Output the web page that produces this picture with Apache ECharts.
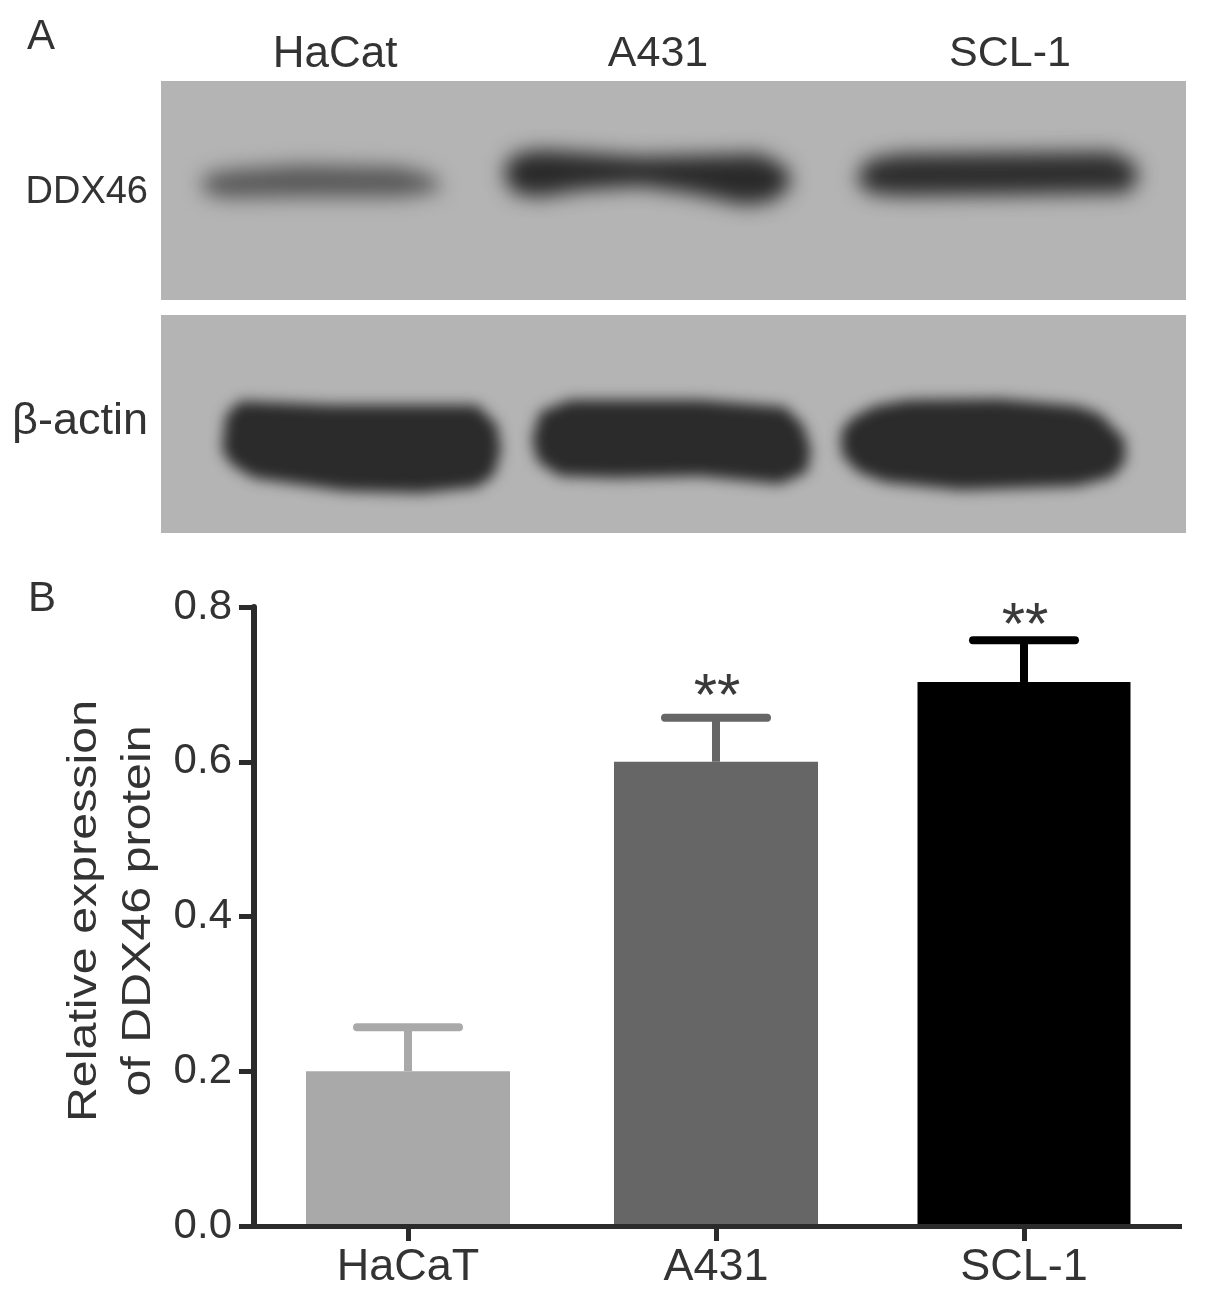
<!DOCTYPE html>
<html>
<head>
<meta charset="utf-8">
<style>
    html, body { margin: 0; padding: 0; background: #fff; }
    #main { width: 1205px; height: 1299px; }
</style>
<script src="https://cdn.jsdelivr.net/npm/echarts@6/dist/echarts.min.js"></script>
</head>
<body>
<div id="main"></div>
<script>
// values
var categories = ['HaCaT', 'A431', 'SCL-1']
var barValues = [0.2, 0.6, 0.703]
var errorTops = [0.257, 0.657, 0.757]
var significance = ['', '**', '**']
var yTicks = { min: 0, max: 0.8, interval: 0.2 }
var blotLanes = ['HaCat', 'A431', 'SCL-1']
var blotRows = ['DDX46', 'β-actin']

var barColors = ['#a9a9a9', '#666666', '#000000']
var starGap = [0, 19, 13]
var fontFamily = '"Liberation Sans", Arial, sans-serif'
var textColor = '#333333'
var axisColor = '#2b2b2b'
var OFF = 3000

// a band is drawn off the page and only its blurred shadow lands on the blot
function band(points, color, blur) {
    return {
        type: 'polygon',
        silent: true,
        shape: { points: points.map(function (p) { return [p[0] - OFF, p[1]] }) },
        style: {
            fill: color,
            shadowColor: color,
            shadowBlur: blur,
            shadowOffsetX: OFF
        }
    }
}

function label(text, x, y, size, align) {
    return {
        type: 'text',
        x: x,
        y: y,
        style: {
            text: text,
            fill: textColor,
            font: size + 'px ' + fontFamily,
            textAlign: align || 'center'
        }
    }
}

var graphics = [
    { type: 'rect', silent: true, shape: { x: 161, y: 81, width: 1025, height: 219 }, style: { fill: '#b4b4b4' } },
    { type: 'rect', silent: true, shape: { x: 161, y: 315, width: 1025, height: 218 }, style: { fill: '#b4b4b4' } },

    band([[203, 176], [230, 170], [300, 165], [400, 167], [435, 177], [441, 190], [400, 197], [300, 197], [225, 198], [203, 192]], '#585858', 20),
    band([[503, 172], [513, 155], [540, 150], [640, 157], [760, 154], [787, 168], [791, 186], [772, 201], [745, 205], [690, 193], [640, 186], [580, 190], [540, 197], [513, 193]], '#2a2a2a', 20),
    band([[856, 178], [868, 160], [900, 154], [1000, 153], [1112, 152], [1134, 163], [1139, 178], [1127, 193], [1000, 195], [900, 196], [868, 193]], '#2e2e2e', 20),

    band([[222, 450], [226, 415], [240, 401], [331, 405], [477, 405], [497, 425], [501, 450], [494, 475], [477, 487], [420, 493], [346, 491], [254, 478], [232, 465]], '#2b2b2b', 14),
    band([[532, 440], [540, 412], [570, 400], [700, 400], [785, 407], [803, 425], [811, 450], [807, 472], [780, 484], [700, 476], [615, 478], [560, 476], [538, 462]], '#2b2b2b', 14),
    band([[841, 432], [842, 455], [858, 472], [885, 482], [961, 490], [1077, 486], [1112, 477], [1125, 462], [1125, 440], [1100, 414], [1077, 406], [1000, 399], [908, 400], [875, 406], [852, 418]], '#2b2b2b', 14),

    label('A', 41, 16, 42),
    label('B', 42, 578, 42),
    label(blotLanes[0], 335, 33, 44),
    label(blotLanes[1], 658, 33, 43),
    label(blotLanes[2], 1010, 33, 43),
    label(blotRows[0], 148, 174, 38, 'right'),
    label(blotRows[1], 148, 399, 45, 'right'),

    // axis title is stretched along its length, like the figure
    {
        type: 'text',
        x: 112,
        y: 911,
        rotation: Math.PI / 2,
        scaleX: 1.18,
        style: {
            text: 'Relative expression\nof DDX46 protein',
            fill: textColor,
            font: '41px ' + fontFamily,
            lineHeight: 54,
            textAlign: 'center',
            textVerticalAlign: 'middle'
        }
    },
    // axis runs slightly past the last band
    { type: 'rect', silent: true, shape: { x: 1177, y: 1224, width: 5, height: 5 }, style: { fill: axisColor } }
]

function renderError(params, api) {
    var i = api.value(0)
    var top = api.coord([i, api.value(1)])
    var base = api.coord([i, api.value(2)])
    var color = barColors[i]
    var children = [
        {
            type: 'line',
            shape: { x1: top[0], y1: base[1], x2: top[0], y2: top[1] },
            style: { stroke: color, lineWidth: 8 }
        },
        {
            type: 'line',
            shape: { x1: top[0] - 51, y1: top[1], x2: top[0] + 51, y2: top[1] },
            style: { stroke: color, lineWidth: 8, lineCap: 'round' }
        }
    ]
    if (significance[i]) {
        children.push({
            type: 'text',
            x: top[0] + 1,
            y: top[1] - starGap[i],
            style: {
                text: significance[i],
                fill: '#3a3a3a',
                font: '60px ' + fontFamily,
                textAlign: 'center',
                textVerticalAlign: 'middle'
            }
        })
    }
    return { type: 'group', children: children }
}

var chart = echarts.init(document.getElementById('main'), null, { renderer: 'canvas' })

function categoryAxis(show) {
    return {
        type: 'category',
        data: categories,
        show: show,
        z: 5,
        axisLine: { lineStyle: { color: axisColor, width: 5 } },
        axisTick: { show: true, alignWithLabel: true, length: 15, lineStyle: { color: axisColor, width: 5 } },
        axisLabel: { color: textColor, fontFamily: fontFamily, fontSize: 45, margin: 19, interval: 0 }
    }
}

chart.setOption({
    backgroundColor: '#ffffff',
    animation: false,
    graphic: graphics,
    grid: { left: 254, top: 607, width: 924, height: 619, containLabel: false },
    xAxis: [categoryAxis(true), categoryAxis(false)],
    yAxis: {
        type: 'value',
        min: yTicks.min,
        max: yTicks.max,
        interval: yTicks.interval,
        z: 5,
        splitLine: { show: false },
        axisLine: { show: true, lineStyle: { color: axisColor, width: 6 } },
        axisTick: { show: true, length: 15, lineStyle: { color: axisColor, width: 5 } },
        axisLabel: {
            color: textColor,
            fontFamily: fontFamily,
            fontSize: 42,
            margin: 22,
            padding: [7, 0, 0, 0],
            formatter: function (v) { return v.toFixed(1) }
        }
    },
    series: [
        {
            name: 'HaCaT and A431',
            type: 'bar',
            barWidth: 204,
            data: [
                { value: barValues[0], itemStyle: { color: barColors[0] } },
                { value: barValues[1], itemStyle: { color: barColors[1] } },
                null
            ]
        },
        {
            name: 'SCL-1',
            type: 'bar',
            xAxisIndex: 1,
            barWidth: 213,
            data: [null, null, { value: barValues[2], itemStyle: { color: barColors[2] } }]
        },
        {
            name: 'Error',
            type: 'custom',
            renderItem: renderError,
            clip: false,
            z: 3,
            encode: { x: 0, y: 1 },
            data: categories.map(function (c, i) { return [i, errorTops[i], barValues[i]] })
        }
    ]
})
</script>
</body>
</html>
